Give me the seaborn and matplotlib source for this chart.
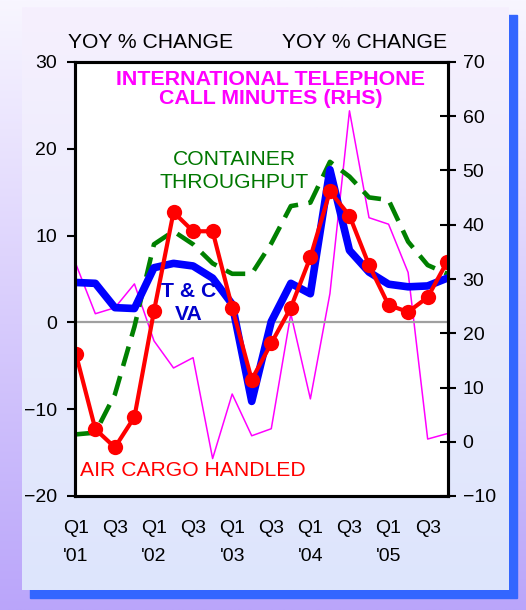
import numpy as np
import pandas as pd
import matplotlib
matplotlib.use("Agg")
import matplotlib.pyplot as plt
import seaborn as sns
from matplotlib.patches import Rectangle

# ---- data ----
quarter_idx = list(range(20))
tick_labels = ["Q1\n'01", "", "Q3", "", "Q1\n'02", "", "Q3", "", "Q1\n'03", "", "Q3", "",
               "Q1\n'04", "", "Q3", "", "Q1\n'05", "", "Q3", ""]
air_cargo = [-3.6, -12.3, -14.4, -10.9, 1.3, 12.7, 10.5, 10.5, 1.7, -6.6,
             -2.4, 1.7, 7.5, 15.1, 12.3, 6.6, 2.0, 1.2, 2.9, 7.0]
tc_va = [4.6, 4.5, 1.7, 1.6, 6.3, 6.8, 6.5, 5.1, 2.1, -9.1,
         0.1, 4.5, 3.3, 17.6, 8.3, 5.8, 4.4, 4.1, 4.2, 5.1]
container = [-12.9, -12.7, -8.3, -0.5, 9.0, 10.5, 9.0, 6.8, 5.6, 5.6,
             9.1, 13.4, 13.8, 18.5, 16.8, 14.4, 14.1, 9.3, 6.6, 5.6]
telephone = [32.8, 23.6, 24.7, 29.1, 18.6, 13.6, 15.5, -3.1, 8.8, 1.1,
             2.4, 23.6, 7.9, 27.3, 61.0, 41.3, 40.1, 31.2, 0.5, 1.5]
left_ticks = [-20, -10, 0, 10, 20, 30]
right_ticks = [-10, 0, 10, 20, 30, 40, 50, 60, 70]

df = pd.DataFrame({"q": quarter_idx, "air": air_cargo, "tc": tc_va,
                   "cont": container, "tel": telephone})

sns.set_style("white")
plt.rcParams["font.family"] = ["Liberation Sans", "DejaVu Sans"]

W, H = 526, 610
fig = plt.figure(figsize=(W / 100, H / 100), dpi=100)

# outer gradient background
bg = fig.add_axes([0, 0, 1, 1], zorder=-30)
top = np.array([248, 246, 255]) / 255
bot = np.array([186, 165, 250]) / 255
t = np.linspace(0, 1, 256)[:, None]
grad = top[None, :] * (1 - t) + bot[None, :] * t
bg.imshow(grad[:, None, :], aspect="auto", extent=[0, 1, 0, 1])
bg.set_axis_off()

# shadow
fig.add_artist(Rectangle((30 / W, 1 - 598 / H), 487 / W, 583 / H,
                         transform=fig.transFigure, color="#3366FF", zorder=-20))
# panel gradient
pan = fig.add_axes([22 / W, 1 - 590 / H, 487 / W, 583 / H], zorder=-10)
ptop = np.array([246, 240, 254]) / 255
pbot = np.array([221, 229, 252]) / 255
pgrad = ptop[None, :] * (1 - t) + pbot[None, :] * t
pan.imshow(pgrad[:, None, :], aspect="auto", extent=[0, 1, 0, 1])
pan.set_axis_off()

# main axes
ax = fig.add_axes([75 / W, 1 - 496 / H, 373 / W, 434 / H])
ax2 = ax.twinx()
ax.set_zorder(2)
ax2.set_zorder(1)
ax.patch.set_visible(False)
ax2.patch.set_visible(True)
ax2.patch.set_facecolor("white")

# right-axis series (behind)
sns.lineplot(data=df, x="q", y="tel", ax=ax2, color="#FF00FF", lw=1.1)

# left-axis series
ax.axhline(0, color="#A0A0A0", lw=1.6, zorder=1)
sns.lineplot(data=df, x="q", y="cont", ax=ax, color="#008000", lw=3.3)
ax.lines[-1].set_linestyle((0, (4.4, 2.3)))
sns.lineplot(data=df, x="q", y="tc", ax=ax, color="#0000FF", lw=5.5)
sns.lineplot(data=df, x="q", y="air", ax=ax, color="#FF0000", lw=3.0,
             marker="o", markersize=11, markeredgewidth=0)

ax.set_xlim(-0.04, 19.04)
ax.set_ylim(-20, 30)
ax2.set_ylim(-10, 70)
ax.set_yticks(left_ticks)
ax2.set_yticks(right_ticks)
ax.set_xticks(quarter_idx)
ax.set_xticklabels(tick_labels, linespacing=1.85)
for a in (ax, ax2):
    a.set_xlabel("")
    a.set_ylabel("")
    for s in a.spines.values():
        s.set_visible(True)
        s.set_color("black")
        s.set_linewidth(2.2)

ax.tick_params(axis="y", direction="out", length=6, width=1.5, labelsize=14,
               pad=7, colors="black")
ax.tick_params(axis="x", direction="out", length=5, width=1.5, labelsize=14,
               pad=12, colors="black")
ax2.tick_params(axis="y", direction="inout", length=11, width=1.5, labelsize=14,
                pad=5, colors="black")

# axis headers
ax.text(-0.019, 1.046, "YOY % CHANGE", transform=ax.transAxes, ha="left",
        va="center", fontsize=15.2, color="black")
ax.text(0.997, 1.046, "YOY % CHANGE", transform=ax.transAxes, ha="right",
        va="center", fontsize=15.2, color="black")

# series annotations
ax.text(9.97, 28.0, "INTERNATIONAL TELEPHONE", ha="center", va="center",
        fontsize=15.4, fontweight="bold", color="#FF00FF")
ax.text(9.97, 25.8, "CALL MINUTES (RHS)", ha="center", va="center",
        fontsize=15.4, fontweight="bold", color="#FF00FF")
ax.text(8.1, 18.8, "CONTAINER", ha="center", va="center", fontsize=15.2,
        color="#007700")
ax.text(8.1, 16.1, "THROUGHPUT", ha="center", va="center", fontsize=15.2,
        color="#007700")
ax.text(5.78, 3.57, "T & C", ha="center", va="center", fontsize=15.2,
        fontweight="bold", color="#0000CC")
ax.text(5.78, 0.92, "VA", ha="center", va="center", fontsize=15.2,
        fontweight="bold", color="#0000CC")
ax.text(0.2, -17.05, "AIR CARGO HANDLED", ha="left", va="center", fontsize=15.2,
        color="#FF0000")

fig.savefig("out.png", dpi=100)
